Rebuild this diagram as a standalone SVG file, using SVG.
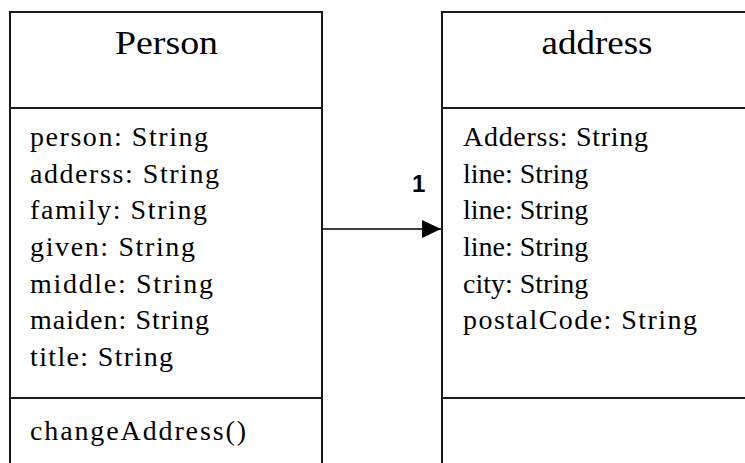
<svg xmlns="http://www.w3.org/2000/svg" width="745" height="463" viewBox="0 0 745 463">
<defs>
<style>
.box{fill:#fff;stroke:#1a1a1a;stroke-width:2}
.sep{stroke:#1a1a1a;stroke-width:2}
.title{font-family:"Liberation Serif","Times New Roman",serif;font-size:33px;fill:#000;text-anchor:middle}
.attr{font-family:"Liberation Serif","Times New Roman",serif;font-size:28px;fill:#000}
.mult{font-family:"Liberation Sans",Arial,sans-serif;font-size:24px;font-weight:bold;fill:#000}
.conn{stroke:#000;stroke-width:1.5;fill:none}
</style>
<marker id="arrow" markerWidth="20" markerHeight="20" refX="19" refY="9" orient="auto" markerUnits="userSpaceOnUse">
<polygon points="0,0 19,9 0,18" fill="#000"/>
</marker>
</defs>
<rect width="745" height="463" fill="#fff"/>
<g id="person">
<rect class="box" x="10" y="12" width="312" height="470"/>
<line class="sep" x1="10" y1="108" x2="322" y2="108"/>
<line class="sep" x1="10" y1="398" x2="322" y2="398"/>
<text class="title" x="166.5" y="54" textLength="103" lengthAdjust="spacingAndGlyphs">Person</text>
<text class="attr" x="30" y="146" textLength="178" lengthAdjust="spacing">person: String</text>
<text class="attr" x="30" y="183" textLength="189" lengthAdjust="spacing">adderss: String</text>
<text class="attr" x="30" y="219" textLength="177" lengthAdjust="spacing">family: String</text>
<text class="attr" x="30" y="256" textLength="165" lengthAdjust="spacing">given: String</text>
<text class="attr" x="30" y="293" textLength="183" lengthAdjust="spacing">middle: String</text>
<text class="attr" x="30" y="329" textLength="179" lengthAdjust="spacing">maiden: String</text>
<text class="attr" x="30" y="366" textLength="143" lengthAdjust="spacing">title: String</text>
<text class="attr" x="30" y="440" textLength="216" lengthAdjust="spacing">changeAddress()</text>
</g>
<g id="address">
<rect class="box" x="442" y="12" width="320" height="470"/>
<line class="sep" x1="442" y1="108" x2="745" y2="108"/>
<line class="sep" x1="442" y1="398" x2="745" y2="398"/>
<text class="title" x="597" y="54" textLength="111" lengthAdjust="spacingAndGlyphs">address</text>
<text class="attr" x="463" y="146" textLength="185" lengthAdjust="spacing">Adderss: String</text>
<text class="attr" x="463" y="183">line: String</text>
<text class="attr" x="463" y="219">line: String</text>
<text class="attr" x="463" y="256">line: String</text>
<text class="attr" x="463" y="293">city: String</text>
<text class="attr" x="463" y="329" textLength="234" lengthAdjust="spacing">postalCode: String</text>
</g>
<g id="connectors">
<line class="conn" x1="322" y1="229" x2="441" y2="229" marker-end="url(#arrow)"/>
<text class="mult" x="412" y="192">1</text>
</g>
</svg>
